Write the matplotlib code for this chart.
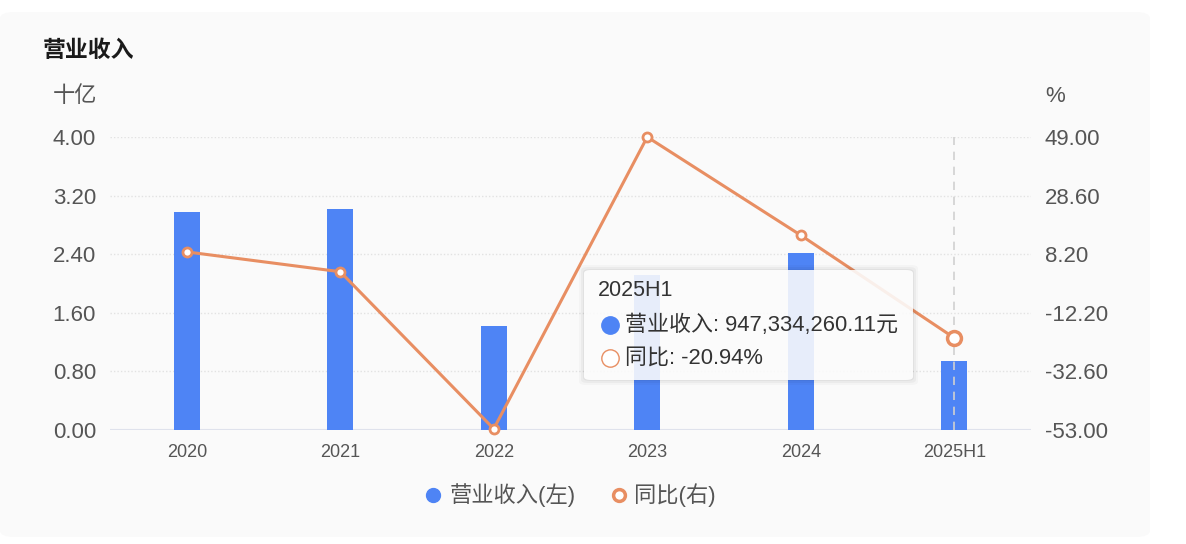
import matplotlib.pyplot as plt
import numpy as np
from matplotlib.patches import FancyBboxPatch
from matplotlib.lines import Line2D

plt.rcParams['font.family'] = ['Liberation Sans', 'Noto Sans CJK SC', 'DejaVu Sans']

# Data
years = ['2020', '2021', '2022', '2023', '2024', '2025H1']
revenue = [2.97, 3.02, 1.425, 2.12, 2.42, 0.947]      # 十亿
yoy = [9.0, 2.1, -52.6, 49.0, 14.8, -20.94]           # %
left_ticks = [0.00, 0.80, 1.60, 2.40, 3.20, 4.00]
right_ticks = [-53.00, -32.60, -12.20, 8.20, 28.60, 49.00]
tip_label = '2025H1'
tip_revenue = 947334260.11   # 元
tip_yoy = -20.94

W, H = 1186, 544
bar_color = '#4e84f5'
line_color = '#e88e62'
text_gray = '#555555'

fig = plt.figure(figsize=(W / 100, H / 100), dpi=100, facecolor='white')

# light panel
fig.add_artist(FancyBboxPatch((0, 1 - 537 / H), 1150 / W, 525 / H,
                              boxstyle='round,pad=0,rounding_size=0.012',
                              transform=fig.transFigure, facecolor='#fafafa',
                              edgecolor='none', zorder=0))

ax = fig.add_axes([110 / W, 1 - 430 / H, 921 / W, 293 / H])
ax.set_facecolor('none')
x = np.arange(len(years))
ax.bar(x, revenue, width=0.167, color=bar_color, zorder=3)
ax.set_xlim(-0.5, len(years) - 0.5)
ax.set_ylim(0, 4.0)
ax.set_yticks(left_ticks)
ax.set_yticklabels([f'{v:.2f}' for v in left_ticks])
ax.set_xticks(x)
ax.set_xticklabels(years)
ax.tick_params(axis='y', length=0, pad=10, labelsize=16, labelcolor=text_gray)
ax.tick_params(axis='x', length=0, pad=10, labelsize=13, labelcolor=text_gray)
for s in ax.spines.values():
    s.set_visible(False)
for v in left_ticks[1:]:
    ax.axhline(v, color='#e2e2e2', lw=1, ls=(0, (1, 1.5)), zorder=1)
ax.axhline(0, color='#dfe2ec', lw=1.5, zorder=2)
ax.axvline(years.index(tip_label), color='#d0d0d0', lw=1.2, ls=(0, (5, 4)), zorder=3.5)

ax2 = ax.twinx()
ax2.set_ylim(-53, 49)
ax2.set_yticks(right_ticks)
ax2.set_yticklabels([f'{v:.2f}' for v in right_ticks])
ax2.tick_params(axis='y', length=0, pad=10, labelsize=16, labelcolor=text_gray)
for s in ax2.spines.values():
    s.set_visible(False)
ax2.plot(x, yoy, color=line_color, lw=2.2, marker='o', ms=6.5, mfc='white',
         mec=line_color, mew=2, zorder=4, clip_on=False)
ax2.plot(x[-1], yoy[-1], 'o', ms=10, mfc='white', mec=line_color, mew=2.5,
         zorder=5, clip_on=False)

# titles / units
fig.text(43 / W, 1 - 50 / H, '营业收入', fontsize=16.5, fontweight='bold', color='#1a1a1a', va='center')
fig.text(53 / W, 1 - 97 / H, '十亿', fontsize=16, color=text_gray, va='center')
fig.text(1045 / W, 1 - 97 / H, '%', fontsize=16, color=text_gray, va='center')

# tooltip
for off, a in [(5, 0.025), (3, 0.035), (1, 0.04)]:
    fig.add_artist(FancyBboxPatch((584 / W - off / W, 1 - 380 / H - off / H),
                                  (329 + 2 * off) / W, (110 + 2 * off) / H,
                                  boxstyle='round,pad=0,rounding_size=0.006',
                                  transform=fig.transFigure, facecolor='black',
                                  edgecolor='none', alpha=a, zorder=9))
fig.add_artist(FancyBboxPatch((584 / W, 1 - 380 / H), 329 / W, 110 / H,
                              boxstyle='round,pad=0,rounding_size=0.006',
                              transform=fig.transFigure, facecolor='white',
                              edgecolor='none', alpha=0.88, zorder=10))
fig.text(598 / W, 1 - 291 / H, tip_label, fontsize=15.5, color='#333333', va='center', zorder=11)
fig.add_artist(Line2D([610 / W], [1 - 325 / H], marker='o', ms=12.5, mfc=bar_color,
                      mec=bar_color, transform=fig.transFigure, zorder=11))
fig.text(625 / W, 1 - 325 / H, f'营业收入: {tip_revenue:,.2f}元',
         fontsize=15.8, color='#333333', va='center', zorder=11)
fig.add_artist(Line2D([610 / W], [1 - 358 / H], marker='o', ms=12.5, mfc='white',
                      mec=line_color, mew=1, transform=fig.transFigure, zorder=11))
fig.text(625 / W, 1 - 358 / H, f'同比: {tip_yoy:.2f}%', fontsize=15.8, color='#333333',
         va='center', zorder=11)

# legend
fig.add_artist(Line2D([433 / W], [1 - 495 / H], marker='o', ms=10, mfc=bar_color,
                      mec=bar_color, transform=fig.transFigure))
fig.text(450 / W, 1 - 495 / H, '营业收入(左)', fontsize=16, color=text_gray, va='center')
fig.add_artist(Line2D([619 / W], [1 - 495 / H], marker='o', ms=8.5, mfc='white',
                      mec=line_color, mew=2.5, transform=fig.transFigure))
fig.text(634 / W, 1 - 495 / H, '同比(右)', fontsize=16, color=text_gray, va='center')

fig.savefig('out.png', dpi=100, facecolor='white')
